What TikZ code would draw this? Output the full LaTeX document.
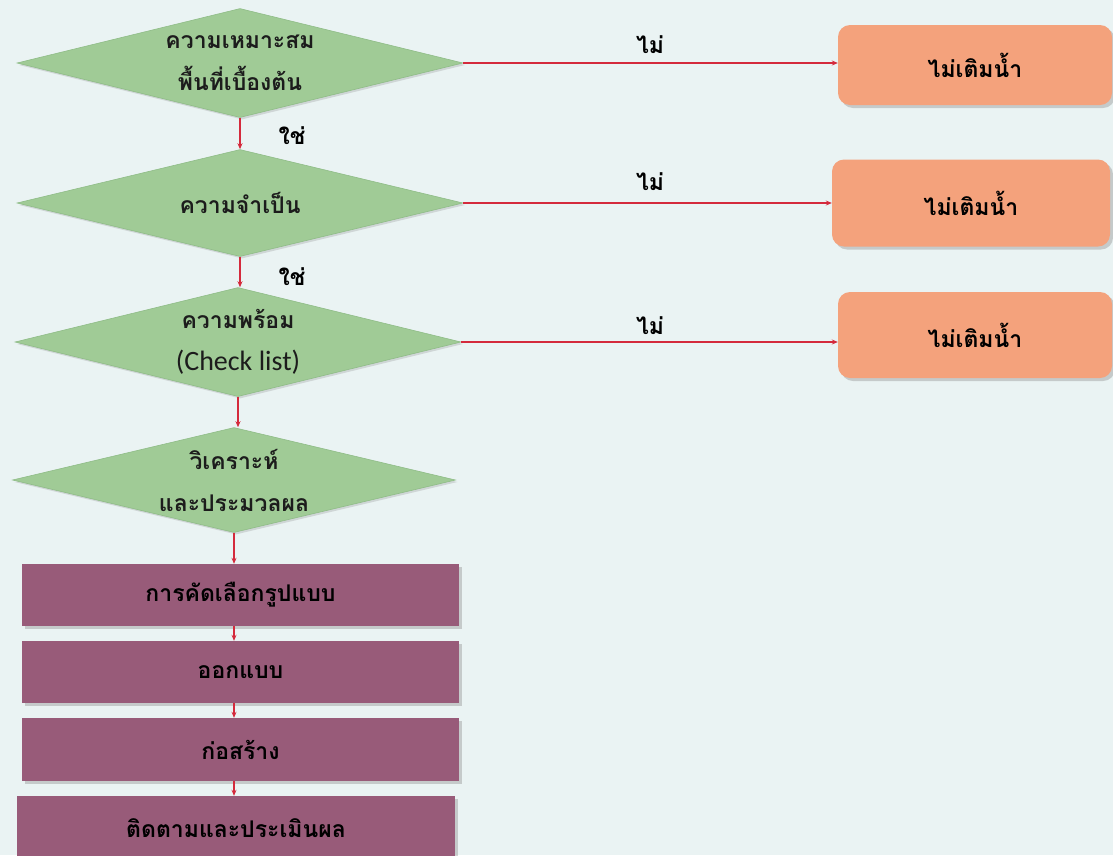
\documentclass[tikz,border=0pt]{standalone}
\usepackage{fontspec}
\newfontfamily\thaifont[Script=Thai]{Loma}
\setsansfont{Carlito}
\usetikzlibrary{shapes.geometric,arrows.meta,shadows}
\definecolor{bgc}{HTML}{EAF3F3}
\definecolor{dgreen}{HTML}{A0CB96}
\definecolor{dgreenb}{HTML}{8FBC87}
\definecolor{purp}{HTML}{985B79}
\definecolor{orng}{HTML}{F4A27C}
\definecolor{redl}{HTML}{D42A3C}
\definecolor{txt}{HTML}{1C1C1C}
\tikzset{
  dia/.style={diamond, fill=dgreen, draw=dgreenb, line width=0.6pt, inner sep=0pt,
    drop shadow={opacity=0.25, shadow xshift=2pt, shadow yshift=-2pt}},
  dtxt/.style={align=center, text=txt, inner sep=0pt,
    font=\thaifont\bfseries\fontsize{23}{42}\selectfont},
  pbox/.style={rectangle, fill=purp, inner sep=0pt, text=black,
    font=\thaifont\bfseries\fontsize{23}{26}\selectfont,
    drop shadow={opacity=0.35, shadow xshift=3pt, shadow yshift=-3pt}},
  obox/.style={rectangle, rounded corners=12pt, fill=orng, inner sep=0pt, text=black,
    font=\thaifont\bfseries\fontsize{23}{26}\selectfont,
    drop shadow={opacity=0.35, shadow xshift=3pt, shadow yshift=-3pt}},
  arr/.style={draw=redl, line width=1.3pt, -{Stealth[length=6pt,width=5pt]}},
  lbl/.style={text=black, font=\thaifont\bfseries\fontsize{23}{26}\selectfont, inner sep=0pt}
}
\begin{document}
\begin{tikzpicture}[x=1pt,y=-1pt]
\useasboundingbox (0,0) rectangle (1113,855);
\fill[bgc] (0,0) rectangle (1113,855);

\node[dia, minimum width=446pt, minimum height=109pt] (d1) at (240,63) {};
\node[dtxt] (t1) at (d1.center) {ความเหมาะสม\\พื้นที่เบื้องต้น};
\node[dia, minimum width=446pt, minimum height=107pt] (d2) at (240,203) {};
\node[dtxt] (t2) at (d2.center) {ความจำเป็น};
\node[dia, minimum width=446pt, minimum height=109pt] (d3) at (238,342) {};
\node[dtxt] (t3) at (d3.center) {ความพร้อม\\{\sffamily\mdseries\fontsize{28}{30}\selectfont (Check list)}};
\node[dia, minimum width=443pt, minimum height=105pt] (d4) at (234,480) {};
\node[dtxt] (t4) at (d4.center) {วิเคราะห์\\และประมวลผล};

\node[pbox, minimum width=437pt, minimum height=62pt] (b1) at (240.5,595) {การคัดเลือกรูปแบบ};
\node[pbox, minimum width=437pt, minimum height=62pt] (b2) at (240.5,672) {ออกแบบ};
\node[pbox, minimum width=437pt, minimum height=63pt] (b3) at (240.5,749.5) {ก่อสร้าง};
\node[pbox, minimum width=438pt, minimum height=64pt] (b4) at (236,828) {ติดตามและประเมินผล};

\node[obox, minimum width=274pt, minimum height=80pt] (r1) at (975,65) {ไม่เติมน้ำ};
\node[obox, minimum width=278pt, minimum height=87pt] (r2) at (971,203) {ไม่เติมน้ำ};
\node[obox, minimum width=274pt, minimum height=86pt] (r3) at (975,335) {ไม่เติมน้ำ};

\draw[arr] (d1.east) -- (d1.east -| r1.west);
\draw[arr] (d2.east) -- (d2.east -| r2.west);
\draw[arr] (d3.east) -- (d3.east -| r3.west);
\node[lbl] (n1) at (650,45) {ไม่};
\node[lbl] (n2) at (650,182) {ไม่};
\node[lbl] (n3) at (650,326) {ไม่};

\draw[arr] (d1.south) -- (d2.north);
\draw[arr] (d2.south) -- (d2.south |- d3.north);
\draw[arr] (d3.south) -- (d3.south |- d4.north);
\draw[arr] (d4.south) -- (d4.south |- b1.north);
\node[lbl] (y1) at (292,136) {ใช่};
\node[lbl] (y2) at (292,277) {ใช่};

\draw[arr] (b1.south -| d4.south) -- (b2.north -| d4.south);
\draw[arr] (b2.south -| d4.south) -- (b3.north -| d4.south);
\draw[arr] (b3.south -| d4.south) -- (b4.north -| d4.south);
\end{tikzpicture}
\end{document}
